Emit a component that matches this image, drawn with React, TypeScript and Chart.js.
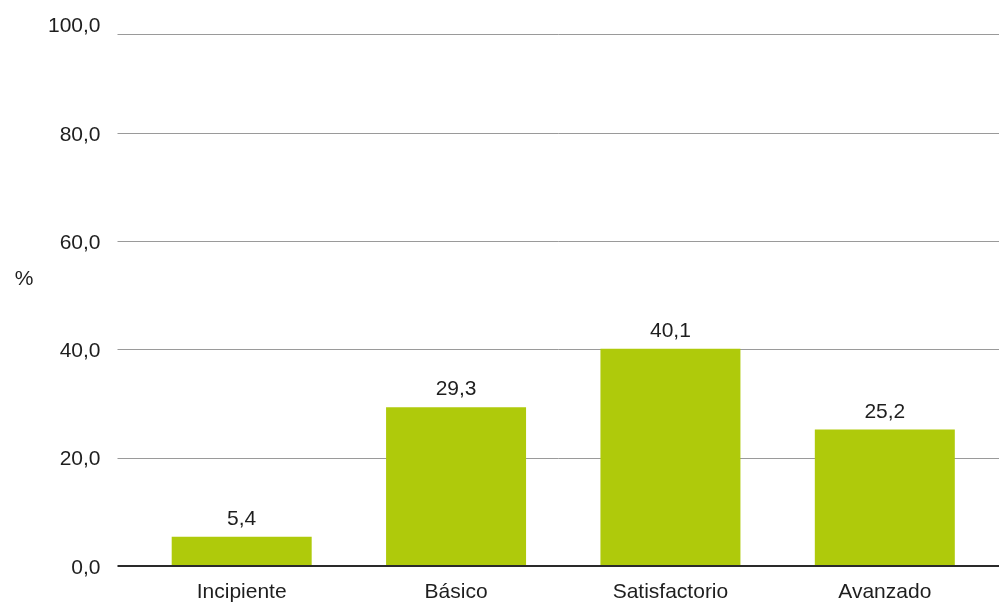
import React, { useEffect, useRef } from "react";
import { Chart, registerables } from "chart.js";

Chart.register(...registerables);

const CATEGORIES = ["Incipiente", "Básico", "Satisfactorio", "Avanzado"];
const VALUES = [5.4, 29.3, 40.1, 25.2];
const TICK_VALUES = [0, 20, 40, 60, 80, 100];
const TICK_LABELS = ["0,0", "20,0", "40,0", "60,0", "80,0", "100,0"];
const VALUE_LABELS = ["5,4", "29,3", "40,1", "25,2"];
const Y_TITLE = "%";

const FONT = "'Liberation Sans', Arial, Helvetica, sans-serif";
const TEXT = "#1e1e1e";
const BAR = "#afca0b";

const customPlugin = {
  id: "customDraw",
  beforeDatasetsDraw(chart: any) {
    const { ctx, chartArea } = chart;
    const y = chart.scales.y;
    const left = chartArea.left - 17;
    ctx.save();
    ctx.strokeStyle = "#9a9a9a";
    ctx.lineWidth = 1;
    TICK_VALUES.forEach((v) => {
      if (v === 0) return;
      let py = y.getPixelForValue(v);
      if (v === TICK_VALUES[TICK_VALUES.length - 1]) py = chartArea.top + 9;
      py = Math.round(py) + 0.5;
      ctx.beginPath();
      ctx.moveTo(left, py);
      ctx.lineTo(chart.width, py);
      ctx.stroke();
    });
    ctx.restore();
  },
  afterDatasetsDraw(chart: any) {
    const { ctx, chartArea } = chart;
    const y = chart.scales.y;
    const left = chartArea.left - 17;
    ctx.save();
    ctx.strokeStyle = "#2a2a2a";
    ctx.lineWidth = 2;
    const by = y.getPixelForValue(0);
    ctx.beginPath();
    ctx.moveTo(left, by);
    ctx.lineTo(chart.width, by);
    ctx.stroke();
    ctx.fillStyle = TEXT;
    ctx.font = `21px ${FONT}`;
    ctx.textAlign = "center";
    ctx.textBaseline = "alphabetic";
    const meta = chart.getDatasetMeta(0);
    meta.data.forEach((bar: any, i: number) => {
      ctx.fillText(VALUE_LABELS[i], bar.x, bar.y - 12);
    });
    ctx.textAlign = "center";
    ctx.textBaseline = "middle";
    ctx.fillText(Y_TITLE, 24, chartArea.top + 255);
    ctx.restore();
  },
};

export default function App() {
  const ref = useRef<HTMLCanvasElement | null>(null);
  useEffect(() => {
    if (!ref.current) return;
    const chart = new Chart(ref.current, {
      type: "bar",
      data: {
        labels: CATEGORIES,
        datasets: [
          {
            data: VALUES,
            backgroundColor: BAR,
            borderWidth: 0,
            categoryPercentage: 1,
            barPercentage: 0.653,
          },
        ],
      },
      options: {
        responsive: false,
        animation: false,
        events: [],
        layout: { padding: { top: 24.5, right: 7, left: 0, bottom: 0 } },
        plugins: {
          legend: { display: false },
          tooltip: { enabled: false },
          title: { display: false },
        },
        scales: {
          x: {
            grid: { display: false, drawTicks: false },
            border: { display: false },
            ticks: {
              color: TEXT,
              font: { family: FONT, size: 21 },
              padding: 14,
              maxRotation: 0,
              autoSkip: false,
            },
            afterFit: (s: any) => {
              s.height = 36;
              s.paddingLeft = 0;
              s.paddingRight = 0;
            },
          },
          y: {
            min: 0,
            max: 100,
            grid: { display: false, drawTicks: false },
            border: { display: false },
            afterBuildTicks: (s: any) => {
              s.ticks = TICK_VALUES.map((v) => ({ value: v }));
            },
            ticks: {
              color: TEXT,
              font: { family: FONT, size: 21 },
              padding: 34,
              labelOffset: 2,
              callback: (v: any) => {
                const i = TICK_VALUES.indexOf(Number(v));
                return i >= 0 ? TICK_LABELS[i] : "";
              },
            },
            afterFit: (s: any) => {
              s.width = 134.5;
              s.paddingTop = 0;
              s.paddingBottom = 0;
            },
          },
        },
      },
      plugins: [customPlugin],
    });
    return () => chart.destroy();
  }, []);
  return (
    <div style={{ position: "fixed", left: 0, top: 0, width: 999, height: 602, background: "#fff" }}>
      <canvas ref={ref} width={999} height={602} style={{ display: "block" }} />
    </div>
  );
}
